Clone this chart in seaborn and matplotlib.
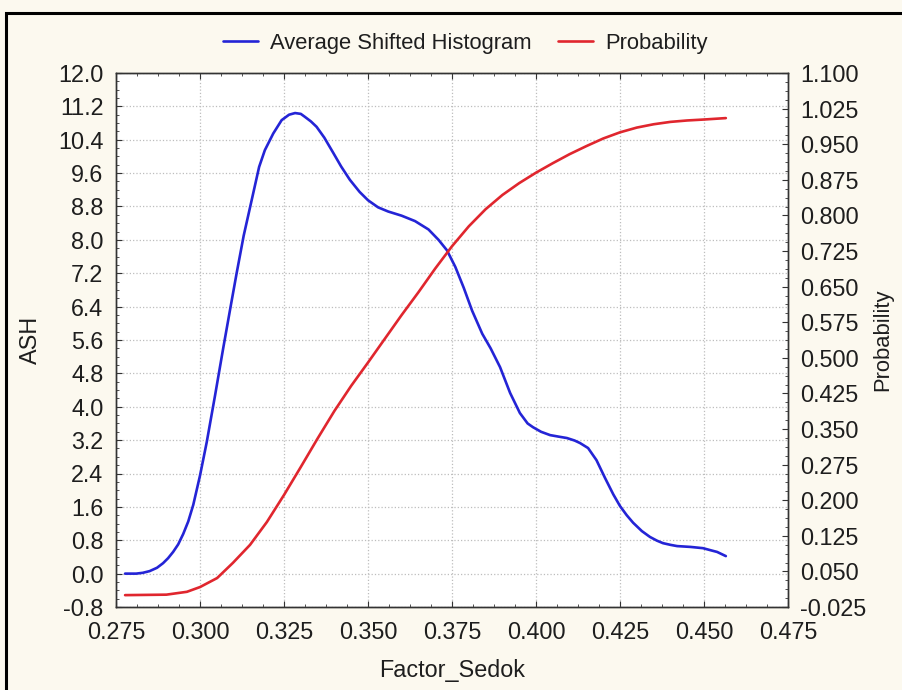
import numpy as np
import pandas as pd
import seaborn as sb
from matplotlib import pyplot as plt
from matplotlib.ticker import MultipleLocator, AutoMinorLocator, FormatStrFormatter, FixedLocator
from matplotlib.patches import Rectangle

# ASH curve (left axis)
ash_x = [0.2777, 0.2810, 0.2830, 0.2850, 0.2872, 0.2890, 0.2905, 0.2920, 0.2935, 0.2950,
         0.2965, 0.2980, 0.3000, 0.3020, 0.3045, 0.3069, 0.3090, 0.3109, 0.3130, 0.3154,
         0.3176, 0.3193, 0.3218, 0.3243, 0.3265, 0.3283, 0.3300, 0.3312, 0.3330, 0.3347,
         0.3370, 0.3397, 0.3420, 0.3446, 0.3475, 0.3500, 0.3530, 0.3560, 0.3600, 0.3640,
         0.3680, 0.3710, 0.3735, 0.3760, 0.3785, 0.3810, 0.3840, 0.3865, 0.3893, 0.3923,
         0.3952, 0.3975, 0.3991, 0.4015, 0.4042, 0.4070, 0.4092, 0.4115, 0.4131, 0.4155,
         0.4180, 0.4205, 0.4230, 0.4250, 0.4270, 0.4289, 0.4315, 0.4339, 0.4360, 0.4378,
         0.4400, 0.4420, 0.4460, 0.4497, 0.4520, 0.4539, 0.4565]
ash_y = [0.00, 0.00, 0.02, 0.06, 0.14, 0.25, 0.37, 0.52, 0.70, 0.95,
         1.25, 1.65, 2.35, 3.15, 4.28, 5.40, 6.35, 7.20, 8.10, 8.96,
         9.75, 10.15, 10.55, 10.87, 11.00, 11.04, 11.02, 10.95, 10.84, 10.71,
         10.45, 10.08, 9.76, 9.44, 9.15, 8.95, 8.78, 8.68, 8.58, 8.45,
         8.25, 8.00, 7.75, 7.35, 6.85, 6.30, 5.75, 5.40, 4.95, 4.33,
         3.85, 3.60, 3.51, 3.40, 3.32, 3.28, 3.25, 3.19, 3.13, 3.01,
         2.72, 2.30, 1.90, 1.62, 1.40, 1.22, 1.02, 0.88, 0.79, 0.73,
         0.69, 0.66, 0.64, 0.61, 0.56, 0.52, 0.42]

# cumulative probability (right axis)
prob_x = [0.2777, 0.2900, 0.2961, 0.3000, 0.3051, 0.3098, 0.3149, 0.3199, 0.3250, 0.3300,
          0.3350, 0.3400, 0.3450, 0.3500, 0.3550, 0.3600, 0.3650, 0.3700, 0.3750, 0.3800,
          0.3850, 0.3900, 0.3950, 0.4000, 0.4050, 0.4100, 0.4150, 0.4200, 0.4250, 0.4300,
          0.4350, 0.4400, 0.4450, 0.4500, 0.4565]
prob_y = [0.000, 0.001, 0.007, 0.017, 0.036, 0.068, 0.106, 0.154, 0.211, 0.270,
          0.330, 0.388, 0.441, 0.490, 0.540, 0.590, 0.638, 0.688, 0.735, 0.777,
          0.813, 0.843, 0.868, 0.890, 0.910, 0.929, 0.946, 0.962, 0.975, 0.985,
          0.992, 0.997, 1.000, 1.002, 1.005]

prob_ticks = [-0.025, 0.050, 0.125, 0.200, 0.275, 0.350, 0.425, 0.500,
              0.575, 0.650, 0.725, 0.800, 0.875, 0.950, 1.025, 1.100]

ash_df = pd.DataFrame({'x': ash_x, 'ash': ash_y})
prob_df = pd.DataFrame({'x': prob_x, 'prob': prob_y})

sb.set_style('ticks')
plt.rcParams['font.family'] = ['Liberation Sans', 'DejaVu Sans']
plt.rcParams['axes.unicode_minus'] = False
fs = 16.8
txt = '#1e1e1e'

fig = plt.figure(figsize=(9.02, 6.9), dpi=100, facecolor='#fcf9ef')
ax = fig.add_axes([116 / 902, 1 - 607 / 690, 672 / 902, 534 / 690])
ax.set_facecolor('white')
blue = '#2424d6'
red = '#e0262e'
sb.lineplot(data=ash_df, x='x', y='ash', ax=ax, color=blue, lw=1.9, label='Average Shifted Histogram', legend=False)
ax2 = ax.twinx()
sb.lineplot(data=prob_df, x='x', y='prob', ax=ax2, color=red, lw=1.9, label='Probability', legend=False)

ax.set_xlim(0.275, 0.475)
ax.set_ylim(-0.8, 12.0)
ax2.set_ylim(-0.025, 1.1)
ax.xaxis.set_major_locator(MultipleLocator(0.025))
ax.xaxis.set_minor_locator(AutoMinorLocator(4))
ax.xaxis.set_major_formatter(FormatStrFormatter('%.3f'))
ax.yaxis.set_major_locator(MultipleLocator(0.8))
ax.yaxis.set_minor_locator(AutoMinorLocator(4))
ax.yaxis.set_major_formatter(FormatStrFormatter('%.1f'))
ax2.yaxis.set_major_locator(FixedLocator(prob_ticks))
ax2.yaxis.set_minor_locator(AutoMinorLocator(4))
ax2.yaxis.set_major_formatter(FormatStrFormatter('%.3f'))

ax.grid(True, which='major', ls=':', color='#bdbdbd', lw=0.9)
ax2.grid(False)
ax.tick_params(which='both', direction='in', top=True, right=False, colors='#333333',
               labelcolor=txt, labelsize=fs)
ax.tick_params(which='major', length=4)
ax.tick_params(which='minor', length=2.2)
ax.tick_params(axis='x', pad=10)
ax.tick_params(axis='y', pad=9)
ax2.tick_params(which='both', direction='in', right=True, colors='#333333',
                labelcolor=txt, labelsize=fs, pad=9)
ax2.tick_params(which='major', length=4)
ax2.tick_params(which='minor', length=2.2)
for a in (ax, ax2):
    for s in a.spines.values():
        s.set_color('#333333')
        s.set_linewidth(1.0)

ax.set_xlabel('Factor_Sedok', fontsize=fs, color=txt, labelpad=11)
ax.set_ylabel('ASH', fontsize=fs, color=txt, labelpad=12)
ax2.set_ylabel('Probability', fontsize=15.8, color=txt, labelpad=4)

h1, l1 = ax.get_legend_handles_labels()
h2, l2 = ax2.get_legend_handles_labels()
fig.legend(h1 + h2, l1 + l2, loc='center', bbox_to_anchor=(465 / 902, 1 - 43 / 690), ncol=2,
           frameon=False, fontsize=15.8, handlelength=1.6, handletextpad=0.55, columnspacing=1.2,
           labelcolor=txt)

# outer frame of the exported picture
fig.patches.append(Rectangle((6 / 902, -0.1), 1.2, 1.1 - 13 / 690, transform=fig.transFigure,
                             fill=False, ec='black', lw=2.2))

fig.savefig('out.png', dpi=100, facecolor=fig.get_facecolor())
